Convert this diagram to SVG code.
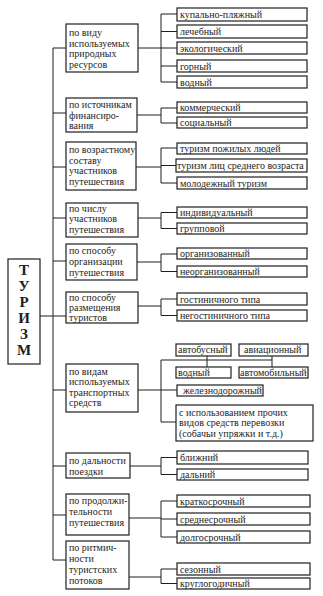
<svg xmlns="http://www.w3.org/2000/svg" width="323" height="596" viewBox="0 0 323 596">
<style>
rect{fill:#fff;stroke:#1e1e1e;stroke-width:1.2}
text{font-family:'Liberation Serif','DejaVu Serif',serif;font-size:10px;fill:#1e1e1e}
.big{font-size:15px;font-weight:bold;text-anchor:middle}
#conn path{fill:none;stroke:#1e1e1e;stroke-width:1}
</style>
<rect x="0" y="0" width="323" height="596" style="fill:#fff;stroke:none"/>
<g id="conn">
<path d="M53,48V560M53,48H66M53,113H66M53,167H66M53,218H66M53,261H66M40,316H66M53,390H66M53,466H66M53,515H66M53,560H66"/>
<path d="M138,48H161M161,14V82M161,14H177M161,31.5H177M161,48H177M161,66H177M161,82H177"/>
<path d="M137,115H161M161,108V123M161,108H177M161,123H177"/>
<path d="M136,167H161M161,148V183M161,148H177M161,165.5H176M161,183H177"/>
<path d="M138,218H161M161,212.5V228.5M161,212.5H177M161,228.5H177"/>
<path d="M137,262H161M161,254V271.5M161,254H177M161,271.5H177"/>
<path d="M138,306H161M161,299V315.5M161,299H177M161,315.5H177"/>
<path d="M138,390H161M161,360V422M161,360H272M207,356V367M272,356V367M161,390H177M161,422H176"/>
<path d="M130,466H161M161,457.5V474.5M161,457.5H177M161,474.5H177"/>
<path d="M129,518H161M161,501V537M161,501H177M161,519H177M161,537H177"/>
<path d="M129,577H161M161,569V583.5M161,569H177M161,583.5H177"/>
</g>
<g id="tourism"><rect x="8" y="259" width="32" height="105"/>
<text class="big" x="24" y="275">Т</text><text class="big" x="24" y="291">У</text><text class="big" x="24" y="307">Р</text><text class="big" x="24" y="323">И</text><text class="big" x="24" y="339">З</text><text class="big" x="24" y="355">М</text></g>
<g id="c1"><rect x="66" y="24" width="72" height="48"/><text x="69" y="35.5">по виду</text><text x="69" y="46.5">используемых</text><text x="69" y="57">природных</text><text x="69" y="67.5">ресурсов</text></g>
<g id="r1a"><rect x="177" y="8" width="130" height="13"/><text x="180" y="17.5">купально-пляжный</text></g>
<g id="r1b"><rect x="177" y="25" width="130" height="13"/><text x="180" y="35">лечебный</text></g>
<g id="r1c"><rect x="177" y="42" width="130" height="12"/><text x="180" y="51.5">экологический</text></g>
<g id="r1d"><rect x="177" y="60" width="130" height="12"/><text x="180" y="69.5">горный</text></g>
<g id="r1e"><rect x="177" y="76" width="130" height="12"/><text x="180" y="85.5">водный</text></g>
<g id="c2"><rect x="66" y="98" width="71" height="34"/><text x="69" y="108">по источникам</text><text x="69" y="118.5">финансиро-</text><text x="69" y="129">вания</text></g>
<g id="r2a"><rect x="177" y="102" width="130" height="11"/><text x="180" y="111">коммерческий</text></g>
<g id="r2b"><rect x="177" y="117" width="130" height="11"/><text x="180" y="126">социальный</text></g>
<g id="c3"><rect x="66" y="142" width="70" height="48"/><text x="69" y="153">по возрастному</text><text x="69" y="163.5">составу</text><text x="69" y="174">участников</text><text x="69" y="184.5">путешествия</text></g>
<g id="r3a"><rect x="177" y="143" width="130" height="11"/><text x="180" y="152">туризм пожилых людей</text></g>
<g id="r3b"><rect x="176" y="159" width="131" height="13"/><text x="177" y="169">туризм лиц среднего возраста</text></g>
<g id="r3c"><rect x="177" y="177" width="130" height="12"/><text x="180" y="186.5">молодежный туризм</text></g>
<g id="c4"><rect x="66" y="203" width="72" height="34"/><text x="69" y="211.5">по числу</text><text x="69" y="222">участников</text><text x="69" y="232.5">путешествия</text></g>
<g id="r4a"><rect x="177" y="207" width="130" height="11"/><text x="180" y="216">индивидуальный</text></g>
<g id="r4b"><rect x="177" y="223" width="130" height="11"/><text x="180" y="232">групповой</text></g>
<g id="c5"><rect x="66" y="244" width="71" height="36"/><text x="69" y="254">по способу</text><text x="69" y="265">организации</text><text x="69" y="275.5">путешествия</text></g>
<g id="r5a"><rect x="177" y="248" width="130" height="11"/><text x="180" y="257">организованный</text></g>
<g id="r5b"><rect x="177" y="266" width="130" height="11"/><text x="180" y="275">неорганизованный</text></g>
<g id="c6"><rect x="66" y="292" width="72" height="31"/><text x="69" y="300.5">по способу</text><text x="69" y="311">размещения</text><text x="69" y="321">туристов</text></g>
<g id="r6a"><rect x="177" y="293" width="130" height="12"/><text x="180" y="302.5">гостиничного типа</text></g>
<g id="r6b"><rect x="177" y="310" width="130" height="11"/><text x="180" y="319">негостиничного типа</text></g>
<g id="c7"><rect x="66" y="364" width="72" height="48"/><text x="69" y="374.5">по видам</text><text x="69" y="385">используемых</text><text x="69" y="395.5">транспортных</text><text x="69" y="406">средств</text></g>
<g id="r7a"><rect x="176" y="344" width="55" height="12"/><text x="178" y="353">автобусный</text></g>
<g id="r7b"><rect x="239" y="344" width="69" height="12"/><text x="244" y="353">авиационный</text></g>
<g id="r7c"><rect x="176" y="367" width="55" height="11"/><text x="178" y="376">водный</text></g>
<g id="r7d"><rect x="239" y="367" width="69" height="11"/><text x="240" y="376">автомобильный</text></g>
<g id="r7e"><rect x="177" y="385" width="86" height="11"/><text x="183" y="394">железнодорожный</text></g>
<g id="r7f"><rect x="176" y="405" width="137" height="36"/><text x="179" y="416">с использованием прочих</text><text x="179" y="426">видов средств перевозки</text><text x="179" y="436.5">(собачьи упряжки и т.д.)</text></g>
<g id="c8"><rect x="66" y="453" width="64" height="25"/><text x="69" y="464">по дальности</text><text x="69" y="474.5">поездки</text></g>
<g id="r8a"><rect x="177" y="451" width="131" height="13"/><text x="180" y="461">ближний</text></g>
<g id="r8b"><rect x="177" y="469" width="131" height="11"/><text x="180" y="478">дальний</text></g>
<g id="c9"><rect x="66" y="494" width="63" height="41"/><text x="69" y="503.5">по продолжи-</text><text x="69" y="514.5">тельности</text><text x="69" y="525.5">путешествия</text></g>
<g id="r9a"><rect x="177" y="495" width="133" height="12"/><text x="180" y="504.5">краткосрочный</text></g>
<g id="r9b"><rect x="177" y="513" width="133" height="12"/><text x="180" y="522.5">среднесрочный</text></g>
<g id="r9c"><rect x="177" y="531" width="133" height="12"/><text x="180" y="540.5">долгосрочный</text></g>
<g id="c10"><rect x="66" y="541" width="63" height="48"/><text x="69" y="551">по ритмич-</text><text x="69" y="562">ности</text><text x="69" y="573">туристских</text><text x="69" y="584">потоков</text></g>
<g id="r10a"><rect x="177" y="563" width="133" height="12"/><text x="180" y="572.5">сезонный</text></g>
<g id="r10b"><rect x="177" y="578" width="133" height="11"/><text x="180" y="587">круглогодичный</text></g>
</svg>
